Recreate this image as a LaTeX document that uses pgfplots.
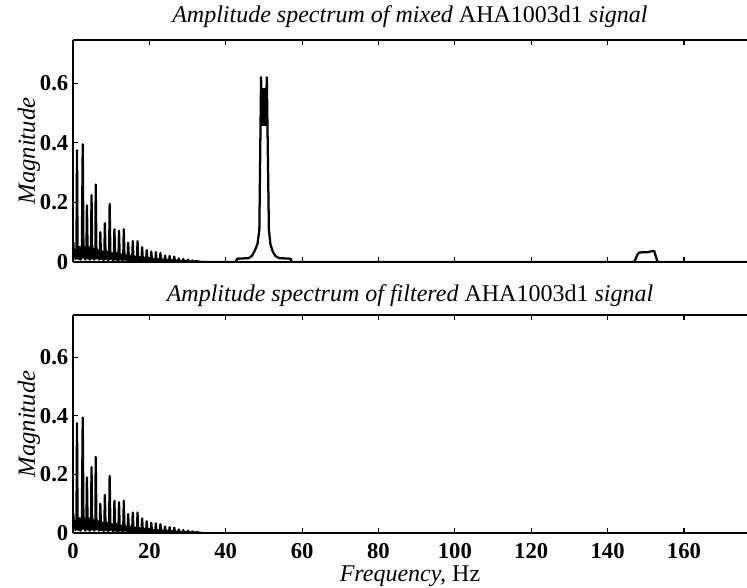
\documentclass[border=0pt]{standalone}
\usepackage{fontspec}
\setmainfont{Liberation Serif}
\usepackage{pgfplots}
\usepackage{pgfplotstable}
\pgfplotsset{compat=1.18}

% low-frequency ECG part, common to both spectra
\pgfplotstableread{
f mag
0.00 0.030
0.10 0.065
0.25 0.020
0.45 0.040
0.65 0.010
0.90 0.020
1.05 0.375
1.20 0.020
1.45 0.010
1.70 0.050
1.95 0.008
2.30 0.015
2.55 0.395
2.75 0.015
2.95 0.050
3.20 0.008
3.50 0.015
3.65 0.190
3.85 0.012
4.10 0.050
4.35 0.008
4.70 0.015
4.85 0.225
5.05 0.012
5.30 0.045
5.55 0.008
5.85 0.015
5.95 0.260
6.15 0.012
6.50 0.040
6.80 0.008
7.00 0.012
7.15 0.100
7.35 0.010
7.70 0.035
8.00 0.006
8.20 0.012
8.35 0.130
8.55 0.010
8.90 0.035
9.20 0.006
9.45 0.012
9.60 0.195
9.80 0.010
10.15 0.030
10.45 0.006
10.70 0.010
10.85 0.110
11.05 0.008
11.40 0.030
11.70 0.005
11.90 0.010
12.05 0.105
12.25 0.008
12.60 0.025
12.90 0.005
13.15 0.010
13.30 0.110
13.50 0.008
13.80 0.022
14.10 0.004
14.30 0.008
14.45 0.065
14.65 0.006
15.00 0.020
15.30 0.004
15.50 0.008
15.65 0.070
15.85 0.006
16.20 0.018
16.50 0.004
16.75 0.006
16.90 0.070
17.10 0.005
17.45 0.016
17.75 0.003
17.95 0.005
18.10 0.050
18.30 0.004
18.65 0.014
18.95 0.003
19.15 0.004
19.30 0.040
19.50 0.003
19.85 0.012
20.15 0.002
20.35 0.004
20.50 0.035
20.70 0.003
21.05 0.010
21.35 0.002
21.55 0.004
21.70 0.033
21.90 0.003
22.25 0.009
22.55 0.002
22.75 0.003
22.90 0.030
23.10 0.003
23.45 0.008
23.75 0.002
23.95 0.003
24.10 0.022
24.30 0.002
24.65 0.007
24.95 0.002
25.15 0.003
25.30 0.020
25.50 0.002
25.85 0.006
26.15 0.001
26.35 0.002
26.50 0.018
26.70 0.002
27.05 0.005
27.35 0.001
27.55 0.002
27.70 0.012
27.90 0.002
28.25 0.004
28.55 0.001
28.75 0.001
28.90 0.010
29.10 0.001
29.45 0.003
29.75 0.001
29.95 0.001
30.10 0.008
30.30 0.001
30.65 0.002
30.95 0.001
31.15 0.001
31.30 0.005
31.50 0.001
32.50 0.003
33.00 0.001
34.00 0.000
}\ecg

% 50 Hz and 150 Hz interference (mixed signal only)
\pgfplotstableread{
f mag
34.00 0.000
42.60 0.000
43.00 0.011
46.00 0.013
46.80 0.020
47.50 0.035
48.30 0.060
48.80 0.107
49.25 0.620
49.45 0.460
49.60 0.580
49.70 0.460
49.80 0.580
49.90 0.460
50.00 0.580
50.10 0.460
50.20 0.580
50.30 0.460
50.40 0.580
50.50 0.460
50.75 0.620
51.30 0.107
51.70 0.060
52.30 0.035
53.00 0.020
54.00 0.013
57.00 0.011
57.30 0.000
147.00 0.000
147.80 0.025
148.30 0.032
150.50 0.033
151.50 0.036
152.20 0.037
152.60 0.020
153.10 0.000
176.50 0.000
}\mains

\pgfplotstableread{
f mag
34.00 0.000
176.50 0.000
}\tail

\pgfplotsset{
  spec/.style={
    scale only axis,
    width=505.5pt,
    xmin=0, xmax=176.5,
    ymin=0, ymax=0.745,
    axis x line*=box,
    axis y line*=left,
    axis line style={-, line width=1.7pt},
    tick align=inside,
    major tick length=4pt,
    tick style={line width=0.8pt, black},
    xtick={0,20,...,160},
    ytick={0,0.2,0.4,0.6},
    /pgf/number format/assume math mode=true,
    tick label style={font=\fontsize{17}{20}\selectfont\bfseries},
    xticklabel style={yshift=-4pt},
    ylabel={\textit{Magnitude}},
    ylabel style={at={(axis description cs:0,0.5)}, anchor=center, yshift=33pt,
      font=\fontsize{18.5}{21}\selectfont},
    title style={at={(axis description cs:0.5,1)}, anchor=base,
      font=\fontsize{18}{21}\selectfont},
    cycle list={{black, mark=none}},
    every axis plot post/.append style={line width=1.7pt, line join=round},
  }
}

\begin{document}
\begin{tikzpicture}
\path[use as bounding box] (-54.75pt,-41.25pt) rectangle (505.5pt,399.75pt);

\begin{axis}[spec,
  at={(0pt,203.25pt)}, anchor=south west,
  height=166.5pt,
  xticklabels={},
  title={\textit{Amplitude spectrum of mixed} AHA1003d1 \textit{signal}},
  title style={yshift=7pt},
]
\addplot table[x=f, y=mag] {\ecg};
\addplot table[x=f, y=mag] {\mains};
\end{axis}

\begin{axis}[spec,
  at={(0pt,0pt)}, anchor=south west,
  height=163.5pt,
  title={\textit{Amplitude spectrum of filtered} AHA1003d1 \textit{signal}},
  title style={yshift=4pt},
  xlabel={\textit{Frequency,} Hz},
  xlabel style={at={(axis description cs:0.5,0)}, anchor=base, yshift=-36.5pt,
    font=\fontsize{18}{21}\selectfont},
]
\addplot table[x=f, y=mag] {\ecg};
\addplot table[x=f, y=mag] {\tail};
\end{axis}
\end{tikzpicture}
\end{document}
